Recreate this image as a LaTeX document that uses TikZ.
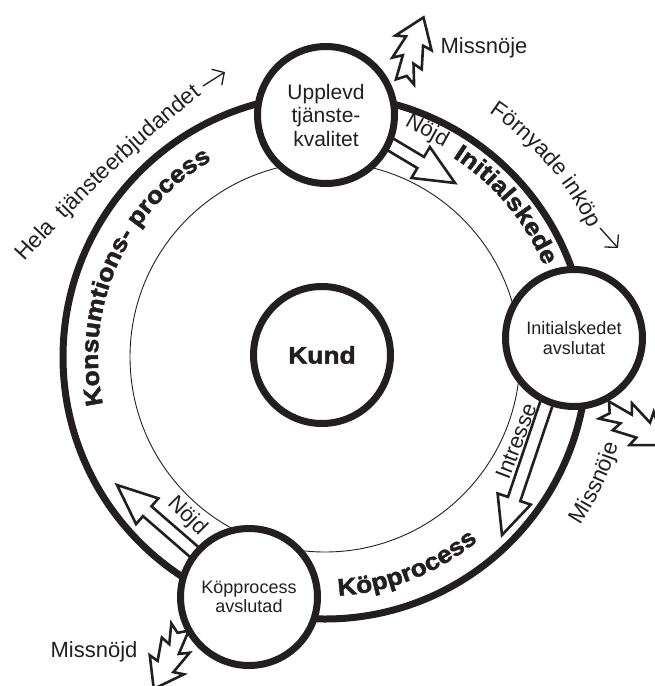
\documentclass[tikz,border=0pt]{standalone}
\usepackage{fontspec}
\setmainfont{Liberation Sans}
\newfontfamily\heavyfont[FakeBold=2,FakeStretch=1.1]{Liberation Sans Bold}
\usetikzlibrary{calc,decorations.text,arrows.meta}
\definecolor{ink}{HTML}{231F20}

% hollow straight block arrow: start, tip, shaft half-width, head length, head half-width
\newcommand\blockarrow[5]{%
  \path ($(#2)!#4!(#1)$) coordinate (ba-base);
  \draw[hollow] ($(#1)!#3!90:(#2)$) -- ($(ba-base)!#3!90:(#2)$)
    -- ($(ba-base)!#5!90:(#2)$) -- (#2) -- ($(ba-base)!#5!-90:(#2)$)
    -- ($(ba-base)!#3!-90:(#2)$) -- ($(#1)!#3!-90:(#2)$) -- cycle;
}

\begin{document}
\begin{tikzpicture}[x=1pt,y=-1pt,
  stage/.style={circle,draw=ink,line width=7pt,fill=white,minimum size=137pt,
    inner sep=0pt,align=center,text=ink},
  hollow/.style={draw=ink,line width=2.6pt,fill=white,line join=miter,miter limit=4},
  label/.style={font=\fontsize{22}{22}\selectfont,text=ink,inner sep=0pt},
  alongtext/.style={decorate,decoration={text along path,text align=center,
    text color=ink,text={#1}}},
  pointer/.style={ink,line width=1.3pt,-{Straight Barb[length=9pt,width=19pt,line width=1.3pt]}},
  % zigzag exit arrow, tail at the origin, pointing along +x
  zigzag/.pic={\draw[hollow] (0,-9) -- (24,-9) -- (19,-18) -- (42,-11) -- (40,-21)
    -- (64,0) -- (36,16) -- (38,7) -- (16,12) -- (19,3) -- (0,9) -- (6,0) -- cycle;}
]
\useasboundingbox (0,0) rectangle (655,686);

\coordinate (ctr) at (325,357);

% inner thin circle and outer thick ring
\draw[ink,line width=0.9pt] (ctr) circle (195);
\draw[ink,line width=7pt] (ctr) circle (262);

% satisfaction arrows between the stages
\coordinate (nA0) at (383,140);
\coordinate (nAt) at (455,183);
\blockarrow{nA0}{nAt}{6.5pt}{40pt}{18pt}
\coordinate (iB0) at (551,390);
\coordinate (iBt) at (502,535);
\blockarrow{iB0}{iBt}{6.5pt}{38pt}{17.5pt}
\coordinate (nC0) at (200,557);
\coordinate (nCt) at (117,485);
\blockarrow{nC0}{nCt}{6.5pt}{40pt}{17pt}

% dissatisfaction exits
\pic[rotate=74,scale=1.05] at (405,82) {zigzag};
\pic[rotate=-30,scale=1.1] at (604,410) {zigzag};
\pic[rotate=-113,scale=1.05] at (180,627) {zigzag};

% stages
\node[stage,font=\fontsize{21}{23.5}\selectfont] (upplevd) at (326,115)
  {Upplevd\\tjänste-\\kvalitet};
\node[stage,font=\fontsize{18}{19.5}\selectfont] (initial) at (574,338)
  {Initialskedet\\avslutat};
\node[stage,font=\fontsize{18}{19.5}\selectfont] (kop) at (249,597)
  {Köpprocess\\avslutad};
\node[stage,font=\heavyfont\fontsize{24}{24}\selectfont] (kund) at (322,355) {Kund};

% phase names inside the ring
\path[alongtext={|\heavyfont\fontsize{24}{24}\selectfont|Initialskede}]
  (ctr) ++(-64:237) arc[start angle=-64,end angle=-16,radius=237];
\path[alongtext={|\heavyfont\fontsize{24}{24}\selectfont|Köpprocess}]
  (ctr) ++(95:239) arc[start angle=95,end angle=42,radius=239];
\path[alongtext={|\heavyfont\fontsize{24}{24}\selectfont|Konsumtions- process}]
  (ctr) ++(160:227) arc[start angle=160,end angle=248,radius=227];

% texts outside the ring
\path[alongtext={|\fontsize{22.5}{22.5}\selectfont|Förnyade inköp}]
  (ctr) ++(-62:294) arc[start angle=-62,end angle=-20,radius=294];
\coordinate (fa0) at (600,228);
\coordinate (fa1) at (618,248);
\draw[pointer] (fa0) -- (fa1);
\path[alongtext={|\fontsize{22.5}{22.5}\selectfont|Missnöje}]
  (ctr) ++(40:306) arc[start angle=40,end angle=10,radius=306];
\path[decorate,decoration={text along path,text align=left,text color=ink,
    text={|\fontsize{22.5}{22.5}\selectfont|Hela{\hspace*{12pt}}tjänsteerbjudandet}}]
  (25,262) .. controls (87,194) and (153,131) .. (223,78);
\coordinate (ha0) at (203,86);
\coordinate (ha1) at (225,72);
\draw[pointer] (ha0) -- (ha1);

% arrow labels
\node[label,rotate=-29] (nojdA) at (427,131) {Nöjd};
\node[label,rotate=69] (intresse) at (516,441) {Intresse};
\node[label,rotate=-45] (nojdC) at (187,516) {Nöjd};
\node[label] (missA) at (484,48) {Missnöje};
\node[label] (missC) at (94,652) {Missnöjd};
\end{tikzpicture}
\end{document}
